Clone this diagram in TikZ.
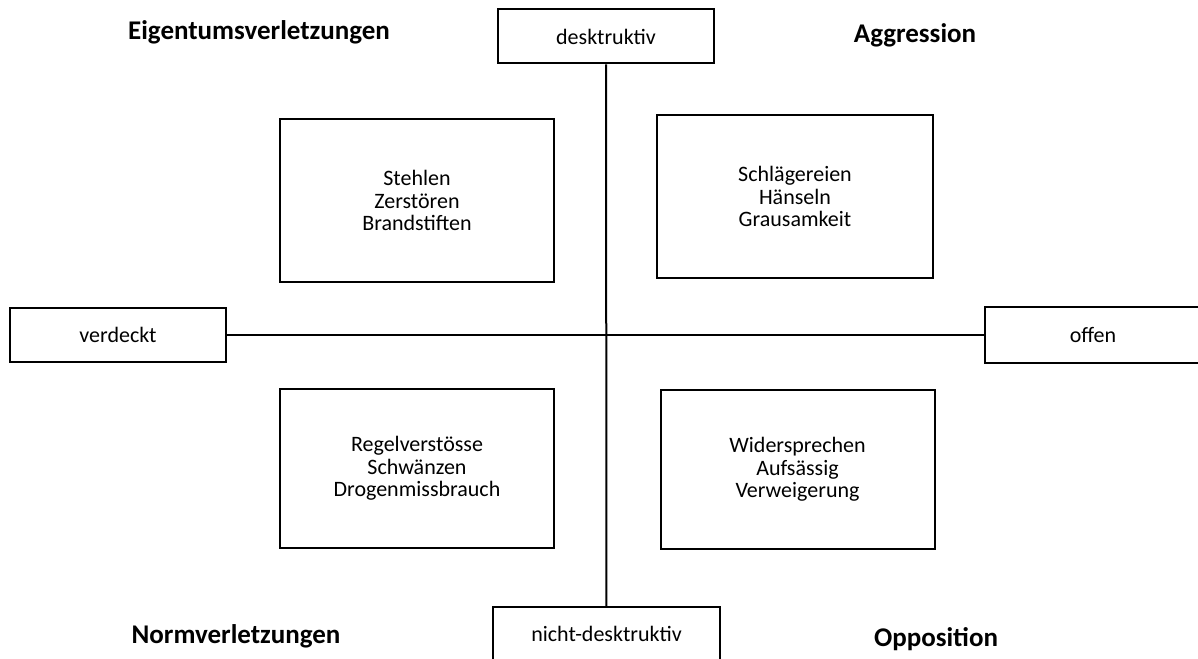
\documentclass[tikz,border=0pt]{standalone}
\usepackage{fontspec}
\setmainfont{Carlito}
\begin{document}
\begin{tikzpicture}[x=0.5pt,y=-0.5pt,
    feld/.style={draw,line width=1pt,minimum width=137pt,minimum height=81pt,align=center,font=\fontsize{11}{11.3}\selectfont},
    achse/.style={draw,line width=1pt,minimum width=108pt,minimum height=27pt,font=\fontsize{11}{13.5}\selectfont},
    titel/.style={font=\fontsize{13.5}{16}\selectfont\bfseries}]
        \useasboundingbox (0,0) rectangle (1198,658);
        \node[achse] (des) at (606,36.5) {desktruktiv};
        \node[achse,minimum width=113.5pt] (nd) at (606.5,634) {nicht-desktruktiv};
        \node[achse] (verd) at (118,335) {verdeckt};
        \node[achse,minimum height=28pt] (off) at (1093,335) {offen};
        \draw[line width=1pt] (des) -- (nd);
        \draw[line width=1pt] (verd) -- (off);
        \node[feld] (eig) at (417,200.5) {Stehlen\\Zerstören\\Brandstiften};
        \node[feld,minimum width=138pt] (agg) at (795,196.5) {Schlägereien\\Hänseln\\Grausamkeit};
        \node[feld,minimum height=79.5pt] (norm) at (417,468.5) {Regelverstösse\\Schwänzen\\Drogenmissbrauch};
        \node[feld,minimum height=79.5pt] (opp) at (797.5,469.5) {Widersprechen\\Aufsässig\\Verweigerung};
        \node[titel] (teig) at (259,32) {Eigentumsverletzungen};
        \node[titel] (tagg) at (915,35) {Aggression};
        \node[titel] (tnorm) at (236,636) {Normverletzungen};
        \node[titel] (topp) at (936,639) {Opposition};
    \end{tikzpicture}
\end{document}
